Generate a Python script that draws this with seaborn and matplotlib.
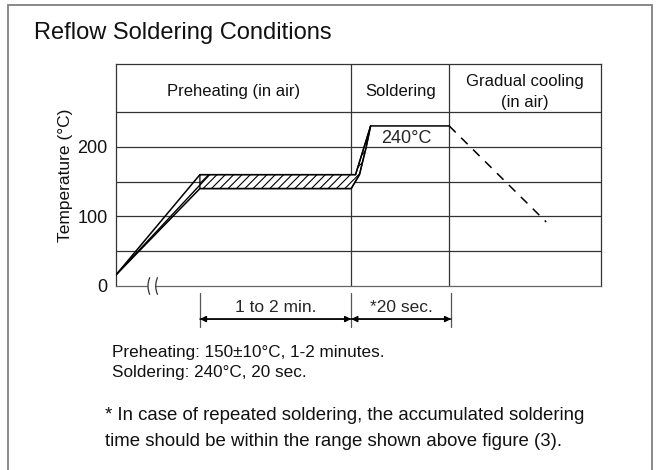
import matplotlib
matplotlib.use("Agg")
import matplotlib.pyplot as plt
import matplotlib.patches as mpatches
import numpy as np
import pandas as pd
import seaborn as sns

# time axis in arbitrary units (0 = start, 100 = right edge of table)
phase_edges = [0, 48.5, 68.7, 100]
phase_names = ["Preheating (in air)", "Soldering", "Gradual cooling\n(in air)"]
temp_grid = [50, 100, 150, 200, 250]
temp_ticks = [0, 100, 200]
temp_top = 319

# temperature profile (upper / lower limits of the band)
upper_x = [0, 17.3, 49.39, 52.5, 68.7]
upper_t = [16, 160, 160, 230, 230]
lower_x = [0, 17.3, 48.5, 50.2, 51.6, 52.5]
lower_t = [16, 140, 140, 160, 200, 230]
inner_x = [0, 19.3]
inner_t = [16, 160]
cool_x = [68.7, 88.7]
cool_t = [230, 92]

# hatched tolerance region
band_x = [17.3, 48.5, 50.2, 51.6, 52.5, 49.39, 17.3]
band_t = [140, 140, 160, 200, 230, 160, 160]

dims = [(17.3, 48.5, "1 to 2 min."), (48.5, 69.1, "*20 sec.")]

sns.set_theme(style="white")
plt.rcParams['font.family'] = ['Liberation Sans', 'DejaVu Sans']
plt.rcParams['hatch.linewidth'] = 0.8

fig = plt.figure(figsize=(6.59, 4.70), dpi=100)
ax = fig.add_axes([116 / 659, 1 - 286 / 470, (601 - 116) / 659, (286 - 64) / 470])

line_c = "#333333"
for t in temp_grid:
    ax.axhline(t, color=line_c, lw=0.9, zorder=1)
for xe in phase_edges[1:-1]:
    ax.axvline(xe, color=line_c, lw=0.9, zorder=1)

for i, name in enumerate(phase_names):
    ax.text((phase_edges[i] + phase_edges[i + 1]) / 2, 279, name,
            ha="center", va="center", fontsize=12, color="#111111",
            linespacing=1.45)

ax.fill(band_x, band_t, facecolor="white", edgecolor="black", hatch="////", lw=0.9, zorder=2)

prof = pd.DataFrame({"x": upper_x, "t": upper_t})
sns.lineplot(data=prof, x="x", y="t", sort=False, color="black", lw=1.1, ax=ax, zorder=3)
prof = pd.DataFrame({"x": lower_x, "t": lower_t})
sns.lineplot(data=prof, x="x", y="t", sort=False, color="black", lw=1.1, ax=ax, zorder=3)
prof = pd.DataFrame({"x": inner_x, "t": inner_t})
sns.lineplot(data=prof, x="x", y="t", sort=False, color="black", lw=1.0, ax=ax, zorder=3)
prof = pd.DataFrame({"x": cool_x, "t": cool_t})
sns.lineplot(data=prof, x="x", y="t", sort=False, color="black", lw=1.1, ax=ax, zorder=3)
ax.lines[-1].set_dashes((6, 5))

ax.text(59.8, 212, "240°C", ha="center", va="center", fontsize=13)

ax.set_xlim(0, 100)
ax.set_ylim(0, temp_top)
ax.set_xticks([])
ax.set_yticks(temp_ticks)
ax.tick_params(axis="y", length=0, pad=6, labelsize=13, labelcolor="#111111")
ax.set_xlabel("")
ax.set_ylabel("Temperature (°C)", fontsize=12.5, labelpad=3, color="#111111")
for s in ax.spines.values():
    s.set_color(line_c)
    s.set_linewidth(0.9)
ax.spines["bottom"].set_color("#666666")

# axis break mark
bx = 7.4
ax.add_patch(mpatches.Rectangle((bx - 0.7, -4), 1.4, 8, facecolor="white",
                                edgecolor="none", clip_on=False, zorder=5))
ss = np.linspace(-1, 1, 20)
for off in (-0.8, 0.8):
    ax.plot(bx + off + 0.35 * ss ** 2, 12 * ss, color="#333333", lw=0.9,
            clip_on=False, zorder=6)

# dimension arrows below the axis
for x0, x1, lab in dims:
    ax.annotate("", xy=(x0, -47.5), xytext=(x1, -47.5), annotation_clip=False,
                arrowprops=dict(arrowstyle="-|>", color="black", lw=1.0,
                                mutation_scale=9, shrinkA=0, shrinkB=0))
    ax.annotate("", xy=(x1, -47.5), xytext=(x0, -47.5), annotation_clip=False,
                arrowprops=dict(arrowstyle="-|>", color="black", lw=1.0,
                                mutation_scale=9, shrinkA=0, shrinkB=0))
    ax.text((x0 + x1) / 2, -31, lab, ha="center", va="center", fontsize=12.5,
            clip_on=False)
for xv in [17.3, 48.5, 69.1]:
    ax.plot([xv, xv], [-10, -59], color="#555555", lw=0.9, clip_on=False)

fig.text(34 / 659, 1 - 33 / 470, "Reflow Soldering Conditions", fontsize=17,
         va="center", ha="left", color="#111111")
fig.text(112 / 659, 1 - 353 / 470, "Preheating: 150±10°C, 1-2 minutes.",
         fontsize=12.3, va="center", color="#111111")
fig.text(112 / 659, 1 - 373 / 470, "Soldering: 240°C, 20 sec.",
         fontsize=12.3, va="center", color="#111111")
fig.text(105 / 659, 1 - 415 / 470,
         "* In case of repeated soldering, the accumulated soldering",
         fontsize=13.4, va="center", color="#111111")
fig.text(105 / 659, 1 - 442 / 470,
         "time should be within the range shown above figure (3).",
         fontsize=13.4, va="center", color="#111111")

fig.add_artist(mpatches.Rectangle((8 / 659, -0.02), (652 - 8) / 659, 1 - 5 / 470 + 0.02,
                                  transform=fig.transFigure, fill=False,
                                  edgecolor="#808080", lw=1.3))

fig.savefig("out.png", dpi=100)
